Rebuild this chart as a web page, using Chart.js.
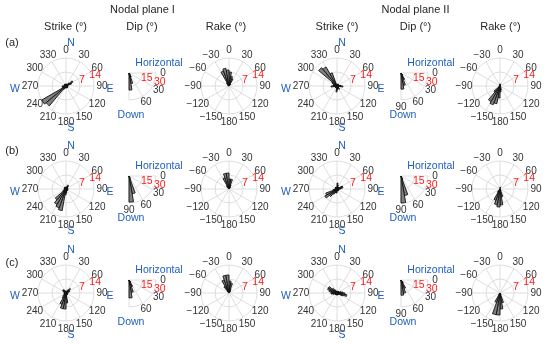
<!DOCTYPE html>
<html>
<head>
<meta charset="utf-8">
<script src="https://cdn.jsdelivr.net/npm/chart.js@4.4.1/dist/chart.umd.min.js"></script>
<style>
  body { margin: 0; background: #fff; font-family: "Liberation Sans", Arial, sans-serif; }
  #fig { position: relative; width: 550px; height: 344px; overflow: hidden; }
  #fig canvas { position: absolute; }
  .t { position: absolute; transform: translate(-50%, -50%); white-space: nowrap; font-size: 11px; color: #262626; }
</style>
</head>
<body>
<div id="fig"></div>
<script>
// bin start angles (10 degree bins, clockwise from the zero direction)
const bins = ['0','10','20','30','40','50','60','70','80','90','100','110','120','130','140','150','160','170',
              '180','190','200','210','220','230','240','250','260','270','280','290','300','310','320','330','340','350'];

const strikeTicks = ['0','30','60','90','120','150','180','210','240','270','300','330'];
const rakeTicks = ['0','30','60','90','120','150','180','\u2212150','\u2212120','\u221290','\u221260','\u221230'];
const dipTicks = ['0','30','60','90'];
const dipTicksNo90 = ['0','30','60',''];

// counts per bin
const strikeA1 = [1,0,1,1,2,4,3,1,1, 1,0,1,1,0,1,1,1,1, 1,1,1,2,13,14,2,1,2, 1,1,1,1,1,1,1,1,1];
const strikeA2 = [1,1,0,1,1,1,1,1,2, 3,1,1,1,1,2,1,1,2, 3,1,1,1,1,1,1,1,3, 2,1,2,3,12,11,7,1,1];
const strikeB1 = [1,1,2,2,1,1,1,1,1, 1,0,1,1,0,1,1,1,2, 3,11,10,9,7,2,1,1,1, 1,0,1,1,1,1,0,1,1];
const strikeB2 = [3,2,1,1,1,1,3,3,2, 1,1,1,1,0,1,1,1,1, 2,2,2,3,5,7,6,2,1, 1,1,1,1,1,1,1,1,1];
const strikeC1 = [1,1,1,2,3,2,2,1,1, 1,0,1,1,0,1,1,1,5, 8,8,6,3,2,1,1,1,1, 1,1,1,2,2,2,1,1,1];
const strikeC2 = [1,0,0,1,1,1,1,2,3, 4,5,3,1,1,1,1,1,1, 1,1,1,1,1,1,1,2,3, 3,4,5,5,3,2,1,1,1];

const dipA1 = [0,0,0,0,1,2,5,12,19];
const dipA2 = [0,0,0,0,1,3,8,14,18];
const dipB1 = [0,0,0,0,0,1,3,20,29];
const dipB2 = [0,0,0,0,0,1,4,22,30];
const dipC1 = [0,0,0,0,1,3,8,14,20];
const dipC2 = [0,0,0,0,1,4,10,15,17];

const rakeA1 = [7,5,4,1,1,0,0,0,0, 0,0,0,0,0,0,0,0,0, 0,0,0,0,0,0,0,0,0, 0,0,0,1,1,2,8,9,8];
const rakeA2 = [1,0,0,0,0,0,0,0,0, 0,0,0,0,0,0,1,2,3, 6,9,10,9,4,1,0,0,0, 0,0,0,0,0,0,0,0,1];
const rakeB1 = [5,5,2,1,0,0,0,0,0, 0,0,0,0,0,0,0,0,0, 0,0,0,0,0,0,0,0,0, 0,0,0,0,1,2,6,8,8];
const rakeB2 = [1,0,0,0,0,0,0,0,0, 0,0,0,0,0,0,1,4,8, 9,8,6,2,0,0,0,0,0, 0,0,0,0,0,0,0,0,0];
const rakeC1 = [6,5,2,1,0,0,0,0,0, 0,0,0,0,0,0,0,0,0, 0,0,0,0,0,0,0,0,0, 0,0,0,0,1,4,7,9,9];
const rakeC2 = [0,0,0,0,0,0,0,0,0, 0,0,0,0,0,0,1,5,8, 11,11,5,1,0,0,0,0,0, 0,0,0,0,0,0,0,0,0];

const rowY = [86, 189, 293];
const blue = '#1f5fbf';
const red = '#ff1a1a';
const grey = '#d6d6d6';
const tickFont = '10px "Liberation Sans", Arial, sans-serif';
const bigFont = '10.5px "Liberation Sans", Arial, sans-serif';

const fig = document.getElementById('fig');

function text(str, x, y, color) {
    const d = document.createElement('div');
    d.className = 't';
    d.textContent = str;
    d.style.left = x + 'px';
    d.style.top = y + 'px';
    if (color) d.style.color = color;
    fig.appendChild(d);
}

function labelPlugin(cfg) {
    return {
        id: 'roseLabels',
        beforeDatasetsDraw(chart) {
            if (!cfg.quarter) return;
            const s = chart.scales.r;
            const ctx = chart.ctx;
            ctx.save();
            ctx.strokeStyle = grey;
            ctx.lineWidth = 0.8;
            cfg.rings.forEach((v) => {
                ctx.beginPath();
                ctx.arc(s.xCenter, s.yCenter, s.getDistanceFromCenterForValue(v), 0, Math.PI / 2);
                ctx.stroke();
            });
            [0, 3, 6, 9].forEach((idx) => {
                const p = s.getPointPosition(idx, s.drawingArea);
                ctx.beginPath();
                ctx.moveTo(s.xCenter, s.yCenter);
                ctx.lineTo(p.x, p.y);
                ctx.stroke();
            });
            ctx.restore();
        },
        afterDraw(chart) {
            const s = chart.scales.r;
            const ctx = chart.ctx;
            ctx.save();
            ctx.textAlign = 'center';
            ctx.textBaseline = 'middle';
            ctx.font = tickFont;
            ctx.fillStyle = '#333';
            cfg.ticks.forEach((t, i) => {
                if (!t) return;
                const p = s.getPointPosition(i * 3, s.drawingArea + cfg.tickGap);
                ctx.fillText(t, p.x, p.y);
            });
            ctx.font = bigFont;
            ctx.fillStyle = red;
            const a = (cfg.rAngle - 90) * Math.PI / 180;
            cfg.rLabels.forEach((v) => {
                const d = s.getDistanceFromCenterForValue(v) + cfg.rGap;
                ctx.fillText(String(v), s.xCenter + Math.cos(a) * d, s.yCenter + Math.sin(a) * d);
            });
            ctx.fillStyle = blue;
            cfg.extra.forEach((e) => ctx.fillText(e[0], s.xCenter + e[1], s.yCenter + e[2]));
            ctx.restore();
        },
    };
}

function rose(cx, cy, values, cfg) {
    const R = cfg.R, P = cfg.P;
    const size = 2 * R + 2 * P;
    const canvas = document.createElement('canvas');
    canvas.width = size;
    canvas.height = size;
    canvas.style.left = (Math.round(cx) - P - R) + 'px';
    canvas.style.top = (Math.round(cy) - P - R) + 'px';
    fig.appendChild(canvas);

    const data = values.concat(new Array(bins.length - values.length).fill(0));
    return new Chart(canvas.getContext('2d'), {
        type: 'polarArea',
        data: {
            labels: bins,
            datasets: [{
                data: data,
                backgroundColor: '#808080',
                borderColor: '#111',
                borderWidth: 0.9,
            }],
        },
        options: {
            responsive: false,
            devicePixelRatio: 1,
            animation: false,
            events: [],
            layout: { padding: P },
            plugins: { legend: { display: false }, tooltip: { enabled: false } },
            scales: {
                r: {
                    min: 0,
                    max: cfg.max,
                    startAngle: cfg.startAngle,
                    ticks: { display: false, stepSize: cfg.step },
                    grid: { display: !cfg.quarter, circular: true, color: grey, lineWidth: 0.8 },
                    angleLines: {
                        display: !cfg.quarter,
                        color: (c) => (c.index % 3 === 0 ? grey : 'rgba(0,0,0,0)'),
                        lineWidth: 0.8,
                    },
                    pointLabels: { display: false },
                },
            },
        },
        plugins: [labelPlugin(cfg)],
    });
}

const compass = [['N', 5, -43], ['E', 44, 3], ['S', 5, 42], ['W', -51, 3]];
const strikeCfg = { R: 28, P: 30, max: 14, step: 7, startAngle: 0, ticks: strikeTicks, tickGap: 8,
    rLabels: [7, 14], rAngle: 70, rGap: 3, extra: compass };
const rakeCfg = Object.assign({}, strikeCfg, { ticks: rakeTicks, extra: [] });
function dipCfg(ticks) {
    return { R: 27, P: 50, max: 30, step: 15, startAngle: 90, quarter: true, rings: [15, 30],
        ticks: ticks, tickGap: 7, rLabels: [15, 30], rAngle: 106, rGap: 5,
        extra: [['Horizontal', 30, -10], ['Down', 2, 42]] };
}

const strikes = [[strikeA1, strikeA2], [strikeB1, strikeB2], [strikeC1, strikeC2]];
const dips = [[dipA1, dipA2], [dipB1, dipB2], [dipC1, dipC2]];
const rakes = [[rakeA1, rakeA2], [rakeB1, rakeB2], [rakeC1, rakeC2]];
const dipTickSets = [[dipTicksNo90, dipTicks], [dipTicks, dipTicks], [dipTicksNo90, dipTicks]];

rowY.forEach((y, r) => {
    rose(66, y, strikes[r][0], strikeCfg);
    rose(129, y - 13, dips[r][0], dipCfg(dipTickSets[r][0]));
    rose(229, y, rakes[r][0], rakeCfg);
    rose(337, y, strikes[r][1], strikeCfg);
    rose(401, y - 13, dips[r][1], dipCfg(dipTickSets[r][1]));
    rose(500, y, rakes[r][1], rakeCfg);
});

text('Nodal plane I', 142.5, 9);
text('Nodal plane II', 415.5, 9);
text('Strike (\u00b0)', 65.5, 26);
text('Dip (\u00b0)', 142, 26);
text('Rake (\u00b0)', 226, 26);
text('Strike (\u00b0)', 337, 26);
text('Dip (\u00b0)', 415.5, 26);
text('Rake (\u00b0)', 500.5, 26);
text('(a)', 12, 42);
text('(b)', 12, 150);
text('(c)', 12, 262);
</script>
</body>
</html>
